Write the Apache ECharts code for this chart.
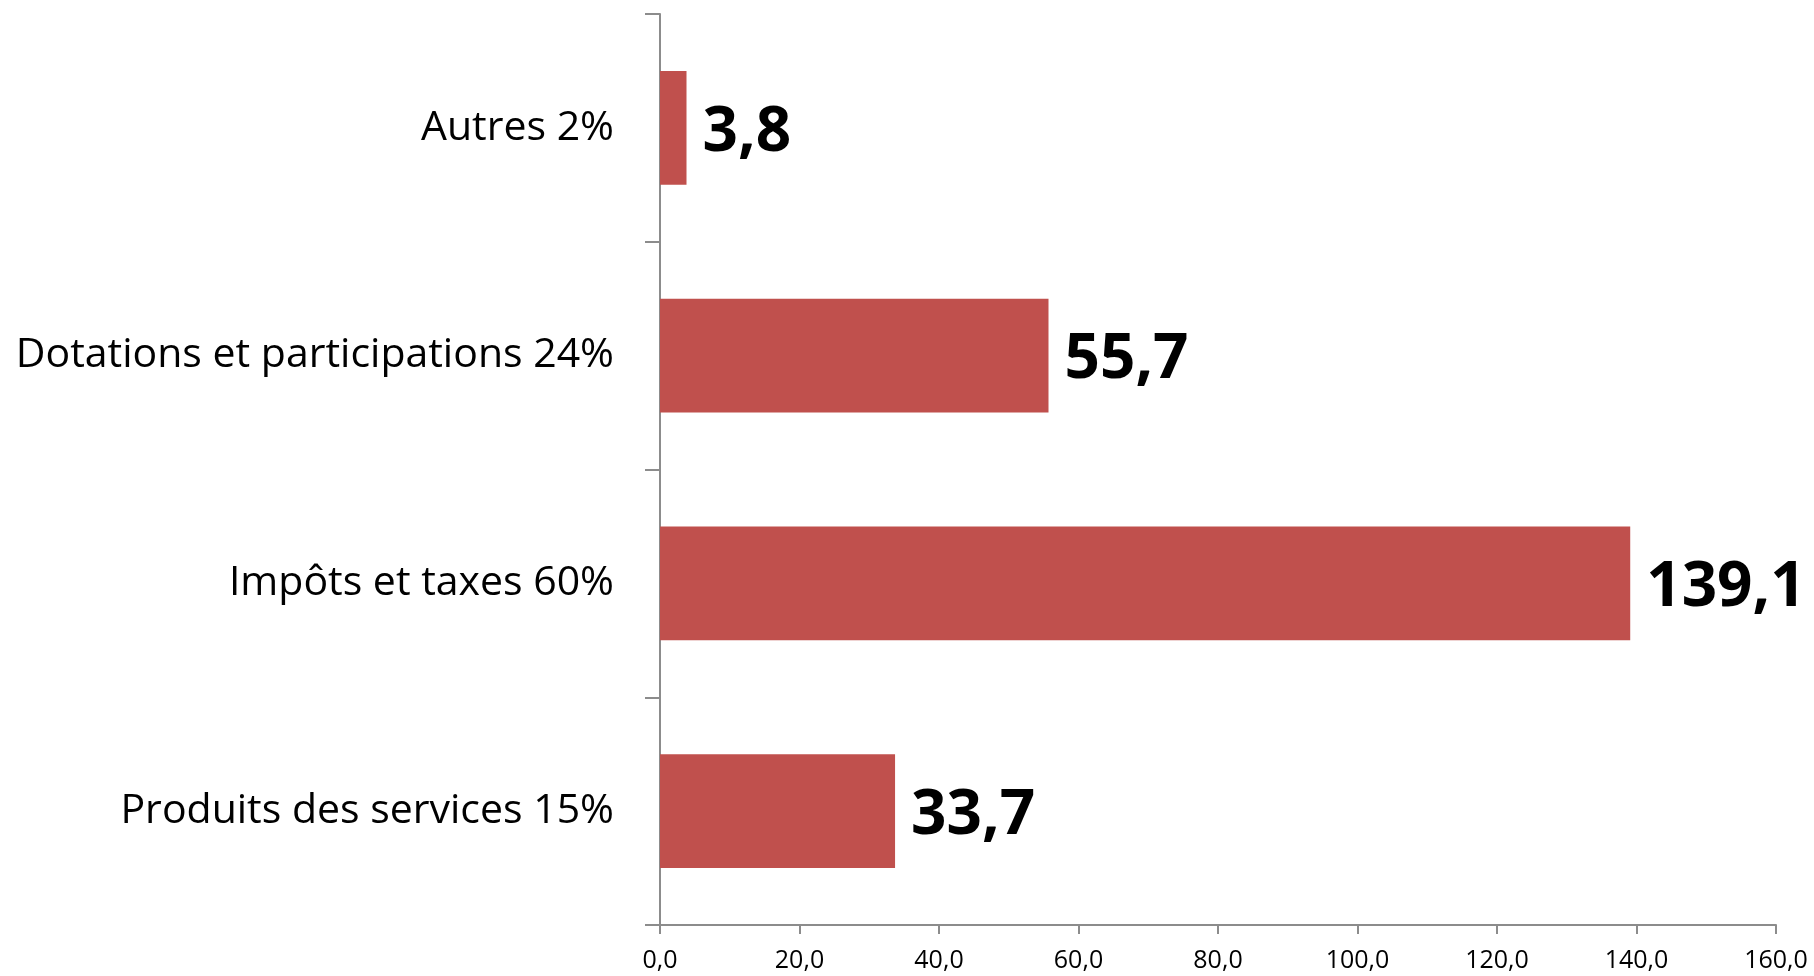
<!DOCTYPE html>
<html>
<head>
<meta charset="utf-8">
<script src="https://cdn.jsdelivr.net/npm/echarts@6/dist/echarts.min.js"></script>
<style>
  html, body { margin: 0; padding: 0; background: #fff; }
  #c1 { width: 1814px; height: 976px; }
</style>
</head>
<body>
<div id="c1"></div>
<script>
// categories listed bottom to top (ECharts draws the first one at the bottom)
var categories = ['Produits des services 15%', 'Impôts et taxes 60%', 'Dotations et participations 24%', 'Autres 2%'];
var values = [33.7, 139.1, 55.7, 3.8];
var xMin = 0;
var xMax = 160;
var xStep = 20;

function fr(v) {
    return v.toFixed(1).replace('.', ',');
}

var chartDom = document.getElementById('c1');
var myChart = echarts.init(chartDom);
var option;

option = {
    animation: false,
    textStyle: { fontFamily: 'Open Sans' },
    grid: {
        left: 660,
        right: 38,
        top: 14,
        bottom: 51
    },
    xAxis: {
        type: 'value',
        min: xMin,
        max: xMax,
        interval: xStep,
        splitLine: { show: false },
        axisLine: { show: true, lineStyle: { color: '#8c8c8c', width: 2 } },
        axisTick: { show: true, length: 9, lineStyle: { color: '#8c8c8c', width: 2 } },
        axisLabel: {
            color: '#000',
            fontSize: 25,
            margin: 23,
            formatter: function (v) { return fr(v); }
        }
    },
    yAxis: {
        type: 'category',
        data: categories,
        axisLine: { show: true, lineStyle: { color: '#8c8c8c', width: 2 } },
        axisTick: { show: true, length: 15, lineStyle: { color: '#8c8c8c', width: 2 } },
        axisLabel: {
            color: '#000',
            fontSize: 41,
            margin: 46
        }
    },
    series: [
        {
            type: 'bar',
            data: values,
            barCategoryGap: '50%',
            itemStyle: { color: '#C0504D' },
            label: {
                show: true,
                position: 'right',
                distance: 16,
                offset: [0, 5],
                color: '#000',
                fontWeight: 'bold',
                fontSize: 62,
                formatter: function (p) { return fr(p.value); }
            }
        }
    ]
};
myChart.setOption(option);
</script>
</body>
</html>
